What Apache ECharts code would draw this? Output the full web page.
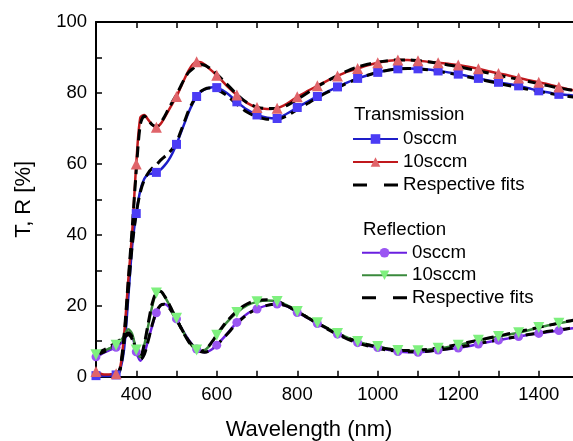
<!DOCTYPE html>
<html>
<head>
<meta charset="utf-8">
<script src="https://cdn.jsdelivr.net/npm/echarts@6/dist/echarts.min.js"></script>
<style>
html,body{margin:0;padding:0;background:#fff;}
#c{width:573px;height:441px;}
</style>
</head>
<body>
<div id="c"></div>
<script>
const wavelengths = [300,310,320,330,340,350,360,370,380,390,
  400,410,420,430,440,450,460,470,480,490,
  500,510,520,530,540,550,560,570,580,590,
  600,
  625,650,675,700,725,750,775,800,
  825,850,875,900,925,950,975,1000,
  1025,1050,1075,1100,1125,1150,1175,1200,
  1225,1250,1275,1300,1325,1350,1375,1400,
  1425,1450,1475,1500];

const T_0sccm = [0.3,0.2,0.2,0.2,0.3,0.5,2,8,22,37,
  46,52.5,55.8,57,57.3,57.6,58.3,59.5,61,63,
  65.5,68.5,71.5,74.5,77,79,80.3,81,81.4,81.6,
  81.5,
  80,77.5,75.3,73.8,73,72.8,74.2,75.9,
  77.5,79,80.4,81.7,83,84.1,85,85.8,
  86.4,86.8,86.9,86.8,86.6,86.2,85.8,85.3,
  84.7,84.1,83.5,83.0,82.5,82.0,81.3,80.6,
  80.1,79.6,79.4,79.1];

const T_10sccm = [1.5,0.9,0.6,0.6,0.7,0.8,2.5,12,27,41,
  60,73,73.8,72.4,71,70.3,71.2,73,75,77,
  79,81.5,84,86.3,88,88.8,88.7,88,87,86,
  85,
  82,79.4,77.2,75.9,75.5,75.7,77,78.9,
  80.5,82,83.5,84.8,86,86.9,87.8,88.5,
  89,89.3,89.3,89.1,88.8,88.5,88.2,87.9,
  87.4,86.8,86.1,85.5,84.9,84.2,83.6,83.0,
  82.4,81.7,81.0,80.5];

const T_0sccm_fit = [null,null,null,null,null,0,2,10,24,37,
  46,52,55.5,57.5,58.8,59.7,61,62,63,64.3,
  66,69,72,75,77.3,79.2,80.4,81.1,81.4,81.3,
  81,
  79.3,76.8,74.6,73.3,72.6,72.6,73.6,75.3,
  77,78.7,80.2,81.5,82.8,84,85,85.8,
  86.4,86.8,86.9,86.8,86.5,86.1,85.6,85.1,
  84.5,83.9,83.3,82.7,82.1,81.5,81.0,80.4,
  79.9,79.4,79.0,78.6];

const T_10sccm_fit = [null,null,null,null,null,0,2.5,12,27,42,
  58,71,73.5,72.3,71,70.5,71.5,73.3,75.5,77.5,
  79.5,81.8,84,85.8,86.8,87.6,88,87.8,87.2,86.3,
  85.3,
  82.5,79.6,77.3,76,75.6,75.6,76.5,78.2,
  80,81.8,83.4,84.9,86.2,87.3,88.1,88.7,
  89.1,89.3,89.3,89.1,88.8,88.4,87.9,87.4,
  86.8,86.2,85.6,85.0,84.4,83.8,83.2,82.6,
  82.0,81.4,80.9,80.4];

const R_0sccm = [5.6,6.2,6.8,7.3,7.8,8.3,9.2,10.5,12,11.5,
  7,4.5,6.5,10.5,14.5,18,20,20.5,19.8,18.2,
  16.3,14.2,12.2,10.4,8.9,7.8,7.1,6.9,7.2,7.9,
  8.9,
  12,15.3,17.7,19.1,20.1,20.5,19.8,18.1,
  16.6,15.0,13.5,12.0,10.7,9.6,8.8,8.2,
  7.6,7.1,6.9,6.9,7.1,7.5,7.8,8.1,
  8.6,9.2,9.8,10.3,10.8,11.3,11.8,12.2,
  12.6,13.0,13.5,13.9];

const R_10sccm = [6.2,6.8,7.3,7.8,8.3,8.9,10,11.5,13.4,12,
  7.5,5.5,9,14.5,20,23.6,24,22.7,20.7,18.5,
  16.5,14.2,12,10,8.5,7.5,7.2,7.5,8.5,10,
  11.7,
  15.3,18.1,20.1,21.1,21.5,21.2,20.1,18.4,
  16.8,15.2,13.7,12.2,11,9.9,9.1,8.5,
  7.9,7.4,7.3,7.3,7.6,8.0,8.4,8.9,
  9.6,10.3,10.8,11.3,11.9,12.4,13.1,13.9,
  14.5,15.1,15.6,16.1];

const R_0sccm_fit = [6.0,6.5,7.0,7.6,8.3,9.0,9.9,11.0,11.8,10.5,
  6.8,4.8,6.3,10.3,14.8,18.2,20.1,20.4,19.6,18.0,
  16.1,14.0,12.0,10.2,8.8,7.7,7.1,6.9,7.2,7.9,
  8.9,
  11.9,15.0,17.5,19.1,20.1,20.4,19.9,18.4,
  16.7,15.0,13.4,11.9,10.6,9.5,8.7,8.0,
  7.5,7.2,7.0,7.0,7.2,7.5,7.9,8.3,
  8.8,9.3,9.9,10.4,10.9,11.4,11.9,12.3,
  12.8,13.2,13.6,14.0];

const R_10sccm_fit = [6.5,7.0,7.6,8.2,8.9,9.6,10.4,11.3,12.4,11.2,
  7.3,5.6,9.2,15.3,20.8,23.8,24.1,22.8,20.8,18.5,
  16.3,14.0,11.8,9.9,8.4,7.5,7.2,7.6,8.6,10.1,
  11.8,
  15.6,18.5,20.5,21.5,21.7,21.2,20.0,18.4,
  16.7,15.1,13.6,12.2,10.9,9.9,9.0,8.3,
  7.8,7.5,7.4,7.5,7.7,8.1,8.6,9.1,
  9.7,10.3,10.9,11.5,12.1,12.7,13.3,13.9,
  14.5,15.1,15.7,16.2];

const xTicks = [400,600,800,1000,1200,1400];
const yTicks = [0,20,40,60,80,100];
const legendLabels = {T0:'0sccm', T10:'10sccm', Tfits:'Respective fits', R0:'0sccm', R10:'10sccm', Rfits:'Respective fits'};
const groupTitles = ['Transmission', 'Reflection'];
const axisTitles = {x:'Wavelength (nm)', y:'T, R [%]'};

const FONT = 'Liberation Sans, Arial, sans-serif';
const MARK_STEP = 50;

function measured(vals) {
  return wavelengths.map((x, i) => (x % MARK_STEP === 0) ? [x, vals[i]] : {value: [x, vals[i]], symbol: 'none'});
}
function fitData(vals) {
  const out = [];
  wavelengths.forEach((x, i) => { if (vals[i] !== null) out.push([x, vals[i]]); });
  return out;
}
function dataSeries(name, vals, lineColor, markColor, symbol, size, rotate) {
  return {
    name: name, type: 'line', data: measured(vals), smooth: 0.3,
    symbol: symbol, symbolSize: size, symbolRotate: rotate || 0,
    showSymbol: true, showAllSymbol: true,
    lineStyle: {color: lineColor, width: 2.5},
    itemStyle: {color: markColor, borderWidth: 0},
    emphasis: {disabled: true}, animation: false
  };
}
function fitSeries(name, vals) {
  return {
    name: name, type: 'line', data: fitData(vals), smooth: 0.3,
    symbol: 'none', showSymbol: false,
    lineStyle: {color: '#000', width: 3, type: [11, 6]},
    itemStyle: {color: '#000'},
    emphasis: {disabled: true}, animation: false, z: 3
  };
}

const dashIcon = 'path://M0,0H14V3H0Z M31,0H45V3H31Z';

const axisCommon = {
  type: 'value', min: 300, max: 1500, interval: 100,
  axisLine: {show: true, onZero: false, lineStyle: {color: '#000', width: 2}},
  axisTick: {show: true, inside: true, length: 6, lineStyle: {color: '#000', width: 1.5}},
  splitLine: {show: false}
};

const chart = echarts.init(document.getElementById('c'), null, {renderer: 'canvas'});
chart.setOption({
  animation: false,
  backgroundColor: '#fff',
  grid: {left: 96, right: -6, top: 22, bottom: 64.3, containLabel: false, outerBoundsMode: 'none'},
  xAxis: [
    Object.assign({}, axisCommon, {
      position: 'bottom',
      axisLabel: {show: true, margin: 9, color: '#000', fontFamily: FONT, fontSize: 18.5,
        showMinLabel: true, showMaxLabel: true,
        formatter: v => xTicks.indexOf(v) >= 0 ? String(v) : ''}
    }),
    Object.assign({}, axisCommon, {position: 'top', axisLabel: {show: false}})
  ],
  yAxis: [
    {
      type: 'value', min: 0, max: 100, interval: 10, position: 'left',
      name: axisTitles.y, nameLocation: 'middle', nameGap: 61, nameRotate: 90,
      nameTextStyle: {color: '#000', fontFamily: FONT, fontSize: 22},
      axisLine: {show: true, onZero: false, lineStyle: {color: '#000', width: 2}},
      axisTick: {show: true, inside: true, length: 6, lineStyle: {color: '#000', width: 1.5}},
      axisLabel: {show: true, margin: 9, color: '#000', fontFamily: FONT, fontSize: 18.5,
        formatter: v => yTicks.indexOf(v) >= 0 ? String(v) : ''},
      splitLine: {show: false}
    },
    {
      type: 'value', min: 0, max: 100, interval: 10, position: 'right',
      axisLine: {show: true, onZero: false, lineStyle: {color: '#000', width: 2}},
      axisTick: {show: true, inside: true, length: 6, lineStyle: {color: '#000', width: 1.5}},
      axisLabel: {show: false}, splitLine: {show: false}
    }
  ],
  legend: [
    {
      orient: 'vertical', left: 352, top: 127.5, padding: 0, itemGap: 0,
      itemWidth: 45, itemHeight: 12, selectedMode: false,
      textStyle: {color: '#000', fontFamily: FONT, fontSize: 18.7, lineHeight: 23},
      formatter: n => legendLabels[n],
      data: ['T0', 'T10', {name: 'Tfits', icon: dashIcon, itemStyle: {color: '#000', borderWidth: 0}}]
    },
    {
      orient: 'vertical', left: 361, top: 241.5, padding: 0, itemGap: 0,
      itemWidth: 45, itemHeight: 12, selectedMode: false,
      textStyle: {color: '#000', fontFamily: FONT, fontSize: 18.7, lineHeight: 22.5},
      formatter: n => legendLabels[n],
      data: ['R0', 'R10', {name: 'Rfits', icon: dashIcon, itemStyle: {color: '#000', borderWidth: 0}}]
    }
  ],
  graphic: [
    {type: 'text', left: 354, top: 105, style: {text: groupTitles[0], fill: '#000', font: '18.7px ' + FONT}},
    {type: 'text', left: 363, top: 220, style: {text: groupTitles[1], fill: '#000', font: '18.7px ' + FONT}},
    {type: 'text', x: 309, y: 430, style: {text: axisTitles.x, fill: '#000', font: '22px ' + FONT, textAlign: 'center', textVerticalAlign: 'middle'}}
  ],
  series: [
    dataSeries('T0', T_0sccm, '#1e1ec8', '#4b3cf5', 'rect', 9),
    dataSeries('T10', T_10sccm, '#c0181c', '#e0646a', 'triangle', 11),
    dataSeries('R0', R_0sccm, '#6a1fe0', '#9a55f2', 'circle', 9),
    dataSeries('R10', R_10sccm, '#3a8a3c', '#7ef07e', 'triangle', 11, 180),
    fitSeries('Tfits', T_0sccm_fit),
    fitSeries('Tfits', T_10sccm_fit),
    fitSeries('Rfits', R_0sccm_fit),
    fitSeries('Rfits', R_10sccm_fit)
  ]
});
</script>
</body>
</html>
